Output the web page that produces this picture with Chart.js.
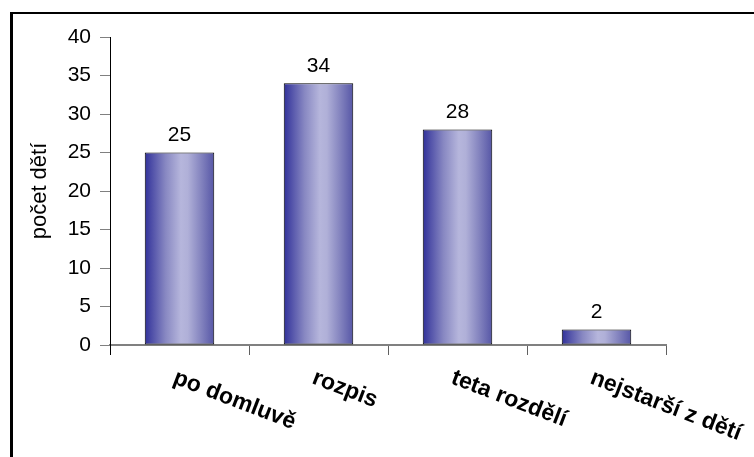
<!DOCTYPE html>
<html>
<head>
<meta charset="utf-8">
<script src="https://cdn.jsdelivr.net/npm/chart.js@4/dist/chart.umd.min.js"></script>
<style>
  html, body { margin: 0; padding: 0; background: #fff; overflow: hidden; }
  #frame { position: absolute; left: 10px; top: 12px; width: 900px; height: 600px;
           border-top: 2px solid #000; border-left: 3px solid #000; }
  #c { position: absolute; left: 0; top: 0; }
</style>
</head>
<body>
<div id="frame"></div>
<canvas id="c" width="754" height="457"></canvas>
<script>
const categories = ["po domluvě", "rozpis", "teta rozdělí", "nejstarší z dětí"];
const values = [25, 34, 28, 2];
const yTicks = [0, 5, 10, 15, 20, 25, 30, 35, 40];
const yTitle = "počet dětí";

const FONT = '"Liberation Sans", Arial, sans-serif';

function barGradient(ctx) {
  const chart = ctx.chart;
  const xs = chart.scales && chart.scales.x;
  if (!xs || !chart.chartArea) return '#8080c0';
  const n = chart.data.labels.length;
  const cw = (xs.right - xs.left) / n;
  const bw = cw * 0.5;
  const cx = xs.getPixelForValue(ctx.dataIndex);
  const x0 = cx - bw / 2, x1 = cx + bw / 2;
  const g = chart.ctx.createLinearGradient(x0, 0, x1, 0);
  g.addColorStop(0.00, '#30309a');
  g.addColorStop(0.12, '#5454aa');
  g.addColorStop(0.30, '#8888c2');
  g.addColorStop(0.52, '#b6b6dc');
  g.addColorStop(0.62, '#b0b0d8');
  g.addColorStop(0.80, '#8686c0');
  g.addColorStop(1.00, '#5656a6');
  return g;
}

const labelPlugin = {
  id: 'labels',
  afterDatasetsDraw(chart) {
    const ctx = chart.ctx;
    const meta = chart.getDatasetMeta(0);
    ctx.save();
    ctx.fillStyle = '#000';
    ctx.font = '21px ' + FONT;
    ctx.textAlign = 'center';
    ctx.textBaseline = 'alphabetic';
    meta.data.forEach((bar, i) => {
      ctx.fillText(String(chart.data.datasets[0].data[i]), bar.x, bar.y - 11.5);
    });
    const xs = chart.scales.x;
    ctx.font = 'bold 23px ' + FONT;
    ctx.textAlign = 'left';
    chart.data.labels.forEach((lab, i) => {
      const cx = xs.getPixelForValue(i);
      ctx.save();
      ctx.translate(cx - 7.5, xs.top + 38);
      ctx.rotate(21 * Math.PI / 180);
      ctx.fillText(lab, 0, 0);
      ctx.restore();
    });
    ctx.restore();
  }
};

new Chart(document.getElementById('c'), {
  type: 'bar',
  data: {
    labels: categories,
    datasets: [{
      data: values,
      backgroundColor: barGradient,
      borderColor: '#000',
      borderWidth: 1,
      borderSkipped: false,
      barPercentage: 0.5,
      categoryPercentage: 1.0
    }]
  },
  options: {
    responsive: false,
    animation: false,
    layout: { padding: { top: 37, right: 88, left: 0, bottom: 0 } },
    plugins: { legend: { display: false }, tooltip: { enabled: false }, title: { display: false } },
    scales: {
      x: {
        afterFit(s) { s.height = 112; },
        ticks: { display: false },
        grid: { drawOnChartArea: false, drawTicks: true, tickLength: 10,
                color: (c) => c.index === 0 ? '#000' : '#606060', offset: true },
        border: { display: true, color: '#808080', width: 2 }
      },
      y: {
        min: 0, max: 40,
        afterFit(s) { s.width = 110; },
        afterBuildTicks(s) { s.ticks = yTicks.map(v => ({ value: v })); },
        ticks: { color: '#000', font: { family: FONT, size: 21 }, padding: 9 },
        grid: { drawOnChartArea: false, drawTicks: true, tickLength: 10, color: '#808080' },
        border: { display: true, color: '#000', width: 1 },
        title: { display: true, text: yTitle, color: '#000', font: { family: FONT, size: 22 }, padding: { top: 27, bottom: 0 } }
      }
    }
  },
  plugins: [labelPlugin]
});
</script>
</body>
</html>
